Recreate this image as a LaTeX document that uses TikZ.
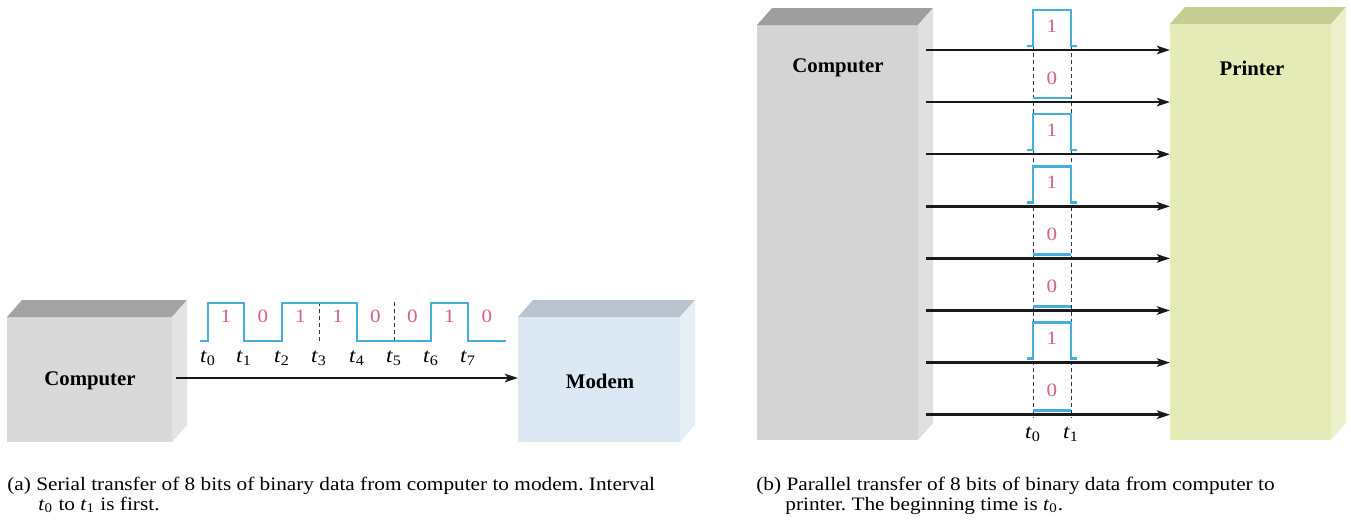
\documentclass[tikz,border=0pt]{standalone}
\usepackage{fontspec}
\setmainfont{Liberation Serif}
\newfontfamily\widefont[FakeStretch=1.12]{Liberation Serif}
\usetikzlibrary{arrows.meta,fit}
\definecolor{wavecol}{HTML}{45AEDD}
\definecolor{bitcol}{HTML}{D4608A}
\definecolor{modemfront}{HTML}{DCE8F3}
\definecolor{modemtop}{HTML}{B9C4CE}
\definecolor{modemside}{HTML}{E6EEF6}
\definecolor{printfront}{HTML}{E4EBB6}
\definecolor{printtop}{HTML}{C6CD93}
\definecolor{printside}{HTML}{EDF1CB}
\newcommand{\cubebox}[8]{%
  \node[fit={(#2,#3)(#4,#5)}, inner sep=0pt, outer sep=0pt, fill=#6] (#1) {};
  \fill[#7] (#1.north west) -- ++(15,-17) -- ([shift={(15,-17)}]#1.north east) -- (#1.north east) -- cycle;
  \fill[#8] (#1.north east) -- ++(15,-17) -- ([shift={(15,-17)}]#1.south east) -- (#1.south east) -- cycle;
}
\frenchspacing
\begin{document}
\begin{tikzpicture}[x=0.5pt,y=-0.5pt,
  wavepath/.style={draw=wavecol, line width=1.25pt, line join=miter},
  arr/.style={-{Stealth[length=6.5pt,width=4.2pt,inset=1.5pt]}, line width=1.25pt, draw=black!90},
  tickline/.style={dash pattern=on 2pt off 1.5pt, line width=0.5pt, draw=black!80},
  bitlab/.style={text=bitcol, font=\widefont\fontsize{9.4}{10}\selectfont, inner sep=0pt},
  tlab/.style={font=\widefont\fontsize{10.3}{12}\selectfont, inner sep=0pt},
  boxlabel/.style={font=\fontsize{10.4}{12}\selectfont\bfseries, inner sep=0pt},
  captext/.style={anchor=base west, font=\widefont\fontsize{9.5}{12}\selectfont, inner sep=0pt}
]
\useasboundingbox[fill=white] (0,0) rectangle (1351,525);

% ---------- (a) serial ----------
\cubebox{comp1}{7}{317}{172}{442}{black!15}{black!36}{black!11}
\cubebox{modem}{518}{317}{680}{442}{modemfront}{modemtop}{modemside}
\node[boxlabel] (lcomp1) at (90,381) {Computer};
\node[boxlabel] (lmodem) at (600,381) {Modem};

\coordinate (sa) at (176,378);
\draw[arr] (sa) -- (sa -| modem.west);

\draw[tickline] (319,302) -- (319,341);
\draw[tickline] (394,302) -- (394,341);
\draw[wavepath] (200,341) -- (208,341) -- (208,303) -- (244,303) -- (244,341)
  -- (282,341) -- (282,303) -- (357,303) -- (357,341) -- (431,341) -- (431,303)
  -- (468,303) -- (468,341) -- (506,341);

\foreach \x/\b [count=\i] in {226/1,263/0,300.5/1,338/1,375.5/0,412.5/0,449.5/1,487/0}
  \node[bitlab] (sb\i) at (\x,316) {\b};
\foreach \x [count=\i from 0] in {208,244,282,319,357,394,431,468}
  \node[tlab] (st\i) at (\x,358) {\textit{t}\textsubscript{\i}};

% ---------- (b) parallel ----------
\cubebox{comp2}{757}{25}{918}{440}{black!17}{black!38}{black!12}
\cubebox{printer}{1170}{24}{1331}{440}{printfront}{printtop}{printside}
\node[boxlabel] (lcomp2) at (838,68) {Computer};
\node[boxlabel] (lprinter) at (1252,68) {Printer};

\draw[tickline] (1033,46) -- (1033,418);
\draw[tickline] (1071,46) -- (1071,418);

\foreach \b [count=\k from 0] in {1,0,1,1,0,0,1,0} {
  \pgfmathsetmacro\yy{50+52.1*\k}
  \coordinate (pa\k) at (926,\yy);
  \draw[arr] (pa\k) -- (pa\k -| printer.west);
  \ifnum\b=1
    \draw[wavepath] (1027,\yy-4) -- (1033,\yy-4) -- (1033,\yy-40) -- (1071,\yy-40) -- (1071,\yy-4) -- (1077,\yy-4);
  \else
    \draw[wavepath] (1033,\yy-4) -- (1071,\yy-4);
  \fi
  \node[bitlab] (pb\k) at (1052,\yy-24) {\b};
}
\node[tlab] (pt0) at (1033,434) {\textit{t}\textsubscript{0}};
\node[tlab] (pt1) at (1071,434) {\textit{t}\textsubscript{1}};

% ---------- captions ----------
\node[captext] (capa1) at (7,490) {(a) Serial transfer of 8 bits of binary data from computer to modem. Interval};
\node[captext] (capa2) at (38,510) {\textit{t}\textsubscript{0} to \textit{t}\textsubscript{1} is first.};
\node[captext] (capb1) at (756,490) {(b) Parallel transfer of 8 bits of binary data from computer to};
\node[captext] (capb2) at (785,510) {printer. The beginning time is \textit{t}\textsubscript{0}.};
\end{tikzpicture}
\end{document}
